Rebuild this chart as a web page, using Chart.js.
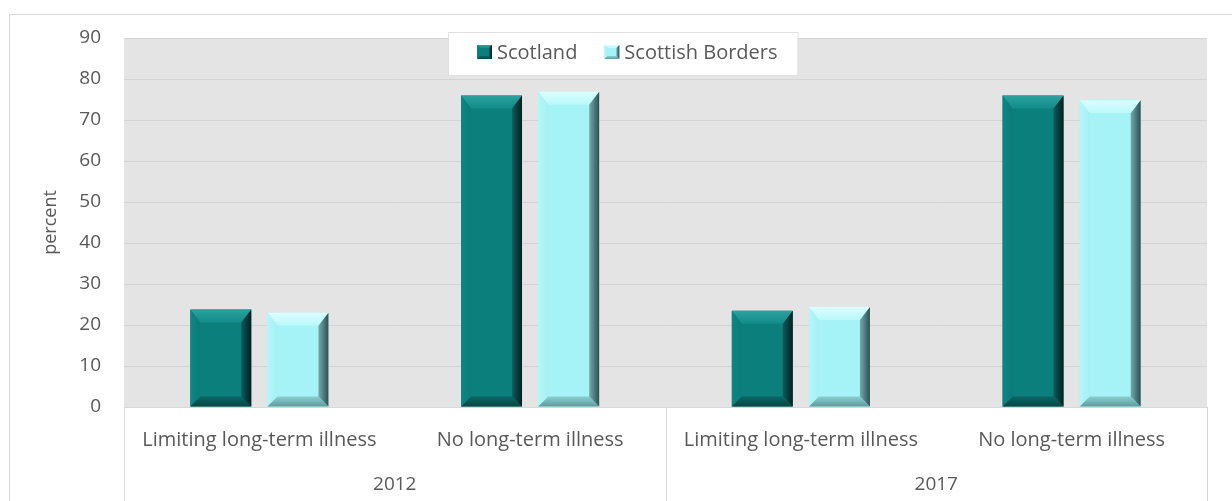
<!DOCTYPE html>
<html>
<head>
<meta charset="utf-8">
<script src="https://cdn.jsdelivr.net/npm/chart.js@4.4.0/dist/chart.umd.min.js"></script>
<style>
  html, body { margin: 0; padding: 0; background: #ffffff; }
  canvas { display: block; }
</style>
</head>
<body>
<canvas id="myChart" width="1232" height="501"></canvas>
<script>
const categories = [
    'Limiting long-term illness',
    'No long-term illness',
    'Limiting long-term illness',
    'No long-term illness',
];
const years = ['2012', '2017'];
const scotland = [23.8, 76, 23.5, 76];
const scottishBorders = [23, 76.9, 24.4, 74.8];

const FONT = '"Open Sans", Lato, sans-serif';
const FSIZE = 20;
const TEXT = '#595959';
const LINE = '#d9d9d9';

// face colour + bevel gradients (top, right, bottom, left) for each series
const bevels = [
    {
        face: '#0b7f7c',
        top: ['#2aa29f', '#138c89'],
        right: ['#0a5e5c', '#031f1f'],
        bottom: ['#0a6765', '#064745'],
        left: ['#0e8683', '#0a7b78'],
    },
    {
        face: '#a5f3f6',
        top: ['#dcffff', '#b9f8fa'],
        right: ['#72acae', '#2c4f51'],
        bottom: ['#8ccfd1', '#5e9b9d'],
        left: ['#b3f7f9', '#a5f0f3'],
    },
];

function grad(ctx, x0, y0, x1, y1, c) {
    const g = ctx.createLinearGradient(x0, y0, x1, y1);
    g.addColorStop(0, c[0]);
    g.addColorStop(1, c[1]);
    return g;
}

function poly(ctx, pts, fill) {
    ctx.beginPath();
    ctx.moveTo(pts[0][0], pts[0][1]);
    for (let i = 1; i < pts.length; i++) ctx.lineTo(pts[i][0], pts[i][1]);
    ctx.closePath();
    ctx.fillStyle = fill;
    ctx.fill();
}

// s = side/bottom bevel width, st = top bevel height
function drawBevel(ctx, l, t, r, b, s, st, c) {
    s = Math.min(s, (r - l) / 2, (b - t) / 2);
    st = Math.min(st, (b - t) / 2);
    poly(ctx, [[l, t], [r, t], [r - s, t + st], [l + s, t + st]], grad(ctx, 0, t, 0, t + st, c.top));
    poly(ctx, [[l, t], [l + s, t + st], [l + s, b - s], [l, b]], grad(ctx, l, 0, l + s, 0, c.left));
    poly(ctx, [[l, b], [r, b], [r - s, b - s], [l + s, b - s]], grad(ctx, 0, b - s, 0, b, c.bottom));
    poly(ctx, [[r, t], [r, b], [r - s, b - s], [r - s, t + st]], grad(ctx, r - s, 0, r, 0, c.right));
}

const frame = {
    id: 'frame',
    beforeDraw(chart) {
        const ctx = chart.ctx;
        const a = chart.chartArea;
        ctx.save();
        // outer border of the chart object
        ctx.strokeStyle = LINE;
        ctx.lineWidth = 1;
        ctx.strokeRect(9.5, 14.5, 1400, 700);
        // grey plot background
        ctx.fillStyle = '#e4e4e4';
        ctx.fillRect(a.left, a.top, a.right - a.left, a.bottom - a.top);
        ctx.restore();
    },
    afterDraw(chart) {
        const ctx = chart.ctx;
        const a = chart.chartArea;
        const x = chart.scales.x;
        ctx.save();
        ctx.strokeStyle = LINE;
        ctx.lineWidth = 1;
        // separators for the two-level category axis
        const edges = [x.left, (x.getPixelForValue(1) + x.getPixelForValue(2)) / 2, x.right];
        ctx.beginPath();
        edges.forEach(e => {
            const px = Math.round(e) + 0.5;
            ctx.moveTo(px, a.bottom);
            ctx.lineTo(px, chart.height);
        });
        ctx.moveTo(x.left, Math.round(a.bottom) + 0.5);
        ctx.lineTo(x.right, Math.round(a.bottom) + 0.5);
        ctx.stroke();

        // legend box inside the plot
        const bx = 448, by = 32, bh = 43;
        ctx.font = FSIZE + 'px ' + FONT;
        let cx = bx + 29;
        const items = chart.data.datasets.map((ds, i) => {
            const it = { x: cx, label: ds.label, c: bevels[i] };
            cx += 15 + 5 + ctx.measureText(ds.label).width + 27;
            return it;
        });
        const bw = cx - 27 + 20 - bx;
        ctx.fillStyle = '#ffffff';
        ctx.fillRect(bx, by, bw, bh);
        ctx.strokeStyle = '#e0e0e0';
        ctx.strokeRect(bx + 0.5, by + 0.5, bw, bh);
        const cy = by + 20;
        items.forEach(it => {
            ctx.fillStyle = it.c.face;
            ctx.fillRect(it.x, cy - 7, 15, 14);
            drawBevel(ctx, it.x, cy - 7, it.x + 15, cy + 7, 3, 3, it.c);
            ctx.fillStyle = TEXT;
            ctx.textBaseline = 'middle';
            ctx.textAlign = 'left';
            ctx.fillText(it.label, it.x + 20, cy + 1);
        });
        ctx.restore();
    },
    afterDatasetsDraw(chart) {
        const ctx = chart.ctx;
        ctx.save();
        chart.data.datasets.forEach((ds, i) => {
            chart.getDatasetMeta(i).data.forEach(bar => {
                const p = bar.getProps(['x', 'y', 'base', 'width'], true);
                const l = p.x - p.width / 2, r = p.x + p.width / 2;
                drawBevel(ctx, l, p.y, r, p.base, 10, 13, bevels[i]);
            });
        });
        ctx.restore();
    },
};

const data = {
    labels: categories,
    datasets: [{
        label: 'Scotland',
        data: scotland,
        backgroundColor: bevels[0].face,
    }, {
        label: 'Scottish Borders',
        data: scottishBorders,
        backgroundColor: bevels[1].face,
    }]
};

const config = {
    type: 'bar',
    data: data,
    plugins: [frame],
    options: {
        responsive: false,
        animation: false,
        categoryPercentage: 0.57,
        barPercentage: 0.79,
        layout: {
            padding: { left: 20, right: 25, top: 38, bottom: 0 }
        },
        plugins: {
            legend: { display: false },
            tooltip: { enabled: false },
        },
        scales: {
            y: {
                min: 0,
                max: 90,
                ticks: {
                    stepSize: 10,
                    color: TEXT,
                    padding: 23,
                    font: { family: FONT, size: FSIZE - 1 },
                },
                grid: { color: '#d4d4d4', drawTicks: false },
                border: { display: false },
                title: {
                    display: true,
                    text: 'percent',
                    color: TEXT,
                    padding: { top: 20, bottom: 0 },
                    font: { family: FONT, size: FSIZE - 2 },
                },
                afterFit: (scale) => { scale.width = 104; },
            },
            x: {
                grid: { display: false },
                border: { display: false },
                ticks: {
                    color: TEXT,
                    padding: 13,
                    maxRotation: 0,
                    autoSkip: false,
                    font: { family: FONT, size: FSIZE },
                },
                afterFit: (scale) => { scale.height = 56; },
            },
            x2: {
                type: 'category',
                labels: years,
                offset: true,
                position: 'bottom',
                grid: { display: false },
                border: { display: false },
                ticks: {
                    color: TEXT,
                    padding: 2,
                    maxRotation: 0,
                    font: { family: FONT, size: FSIZE - 1 },
                },
                afterFit: (scale) => { scale.height = 38; },
            },
        },
    },
};

const myChart = new Chart(
    document.getElementById('myChart'),
    config
);
</script>
</body>
</html>
